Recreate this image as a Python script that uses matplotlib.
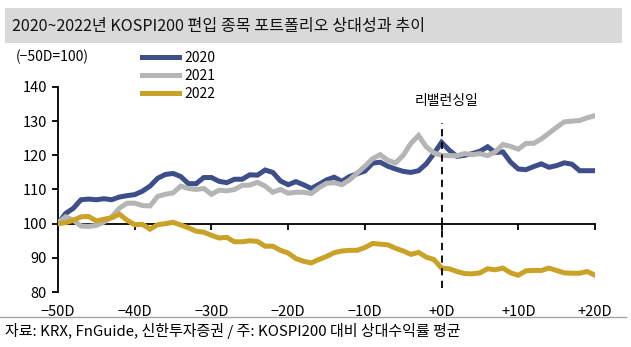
import matplotlib
matplotlib.use("Agg")
import matplotlib.pyplot as plt
from matplotlib.patches import Rectangle
from matplotlib.lines import Line2D

plt.rcParams['font.family'] = ['Noto Sans CJK KR', 'DejaVu Sans']

days = list(range(-50, 21))
s2020 = [100, 103, 104.5, 107, 107.2, 107, 107.3, 107, 107.8, 108.2,
         108.5, 109.5, 111, 113.3, 114.4, 114.7, 113.8, 111.7, 111.7, 113.5,
         113.5, 112.4, 112, 113, 113, 114.3, 114.2, 115.7, 115, 112.5,
         111.4, 112.3, 111.4, 110.3, 111.5, 112.8, 113.6, 112.4, 113.8, 114.6,
         115.4, 117.7, 118, 116.8, 116, 115.3, 115, 115.5, 117.5, 120.5,
         123.8, 121.5, 119.7, 120, 120.5, 121.2, 122.5, 120.8, 121, 118,
         116, 115.8, 116.7, 117.5, 116.5, 117, 117.8, 117.4, 115.5, 115.5, 115.5]
s2021 = [100.3, 102, 101, 99.3, 99.2, 99.5, 100.5, 102, 104.5, 106,
         106, 105.3, 105.2, 108, 108.6, 109, 111, 110.3, 110, 110.3,
         108.6, 109.8, 109.6, 110, 111.2, 111.3, 112.1, 111, 109.2, 110,
         108.9, 109.2, 109.2, 108.8, 110.5, 111.8, 112, 111.4, 112.8, 114.8,
         116.8, 119, 120.2, 118.5, 117.8, 120, 123.5, 125.8, 122.5, 120.7,
         120, 119.9, 119.9, 120.5, 120.2, 120.5, 119.9, 121, 123.2, 122.6,
         121.8, 123.5, 123.5, 124.8, 126.5, 128.2, 129.8, 130, 130.2, 131, 131.6]
s2022 = [100, 100.3, 101, 102, 102.1, 100.8, 101.3, 101.7, 102.8, 101,
         99.7, 99.8, 98.4, 99.7, 100, 100.4, 99.6, 98.8, 97.8, 97.5,
         96.6, 95.8, 96, 94.7, 94.7, 95, 94.8, 93.4, 93.4, 92.2,
         91.4, 89.8, 89, 88.5, 89.5, 90.4, 91.5, 92, 92.2, 92.2,
         93, 94.2, 94, 93.8, 92.8, 92, 91, 91.6, 90.2, 89.5,
         87, 86.8, 86, 85.4, 85.3, 85.6, 86.8, 86.5, 87, 85.6,
         84.9, 86.2, 86.3, 86.3, 87, 86.3, 85.6, 85.5, 85.5, 86, 84.9]
series_labels = ['2020', '2021', '2022']
xticks = [-50, -40, -30, -20, -10, 0, 10, 20]
xticklabels = ['−50D', '−40D', '−30D', '−20D', '−10D', '+0D', '+10D', '+20D']
yticks = [80, 90, 100, 110, 120, 130, 140]

W, H = 631, 347
fig = plt.figure(figsize=(W / 100, H / 100), dpi=100)

# title band
fig.patches.append(Rectangle((5 / W, 1 - 43 / H), 617 / W, 35 / H,
                             transform=fig.transFigure, facecolor='#D9D9D9',
                             edgecolor='none', zorder=0))
fig.text(12 / W, 1 - 26 / H, '2020~2022년 KOSPI200 편입 종목 포트폴리오 상대성과 추이',
         fontsize=11.6, va='center', ha='left', color='#111111')

ax = fig.add_axes([58 / W, 1 - 292 / H, (595 - 58) / W, (292 - 87) / H])
colors = ['#3E4E88', '#B5B5B5', '#C9A227']
for s, c, lab in zip([s2020, s2021, s2022], colors, series_labels):
    ax.plot(days, s, color=c, lw=3.6, label=lab, solid_joinstyle='miter', zorder=3)

ax.set_xlim(-50, 20)
ax.set_ylim(80, 140)
for sp in ['top', 'right', 'bottom']:
    ax.spines[sp].set_visible(False)
ax.spines['left'].set_linewidth(1.3)
ax.spines['left'].set_color('black')
ax.set_yticks(yticks)
ax.tick_params(axis='y', direction='out', length=4, width=1.3, labelsize=10.5, pad=4)
ax.set_xticks(xticks)
ax.set_xticklabels(xticklabels)
ax.tick_params(axis='x', length=0, labelsize=10.5, pad=9)

# horizontal axis line at 100 with tick marks
sec = ax.secondary_xaxis(1 / 3)
sec.set_xticks(xticks)
sec.tick_params(axis='x', direction='out', length=4, width=1.3, labelbottom=False, labeltop=False)
sec.spines['bottom'].set_linewidth(1.3)
sec.spines['bottom'].set_color('black')

# rebalancing day
ax.vlines(0, 81.2, 129.6, colors='black', linestyles=(0, (4, 3)), lw=1.3, zorder=4)
ax.text(0.7, 136, '리밸런싱일', ha='center', va='center', fontsize=10)

fig.text(16 / W, 1 - 57 / H, '(−50D=100)', fontsize=10, va='center', ha='left')

handles = [Line2D([], [], color=c, lw=3.6) for c in colors]
fig.legend(handles, series_labels, loc='upper left',
           bbox_to_anchor=(136 / W, 1 - 45 / H), frameon=False, fontsize=10,
           handlelength=2.7, handletextpad=0.4, labelspacing=0.3, borderaxespad=0)

# footer
fig.add_artist(Line2D([0, 626 / W], [1 - 317 / H, 1 - 317 / H],
                      transform=fig.transFigure, color='#A6A6A6', lw=1))
fig.text(5 / W, 1 - 331 / H, '자료: KRX, FnGuide, 신한투자증권 / 주: KOSPI200 대비 상대수익률 평균',
         fontsize=10.8, va='center', ha='left')

fig.savefig('out.png', dpi=100)
